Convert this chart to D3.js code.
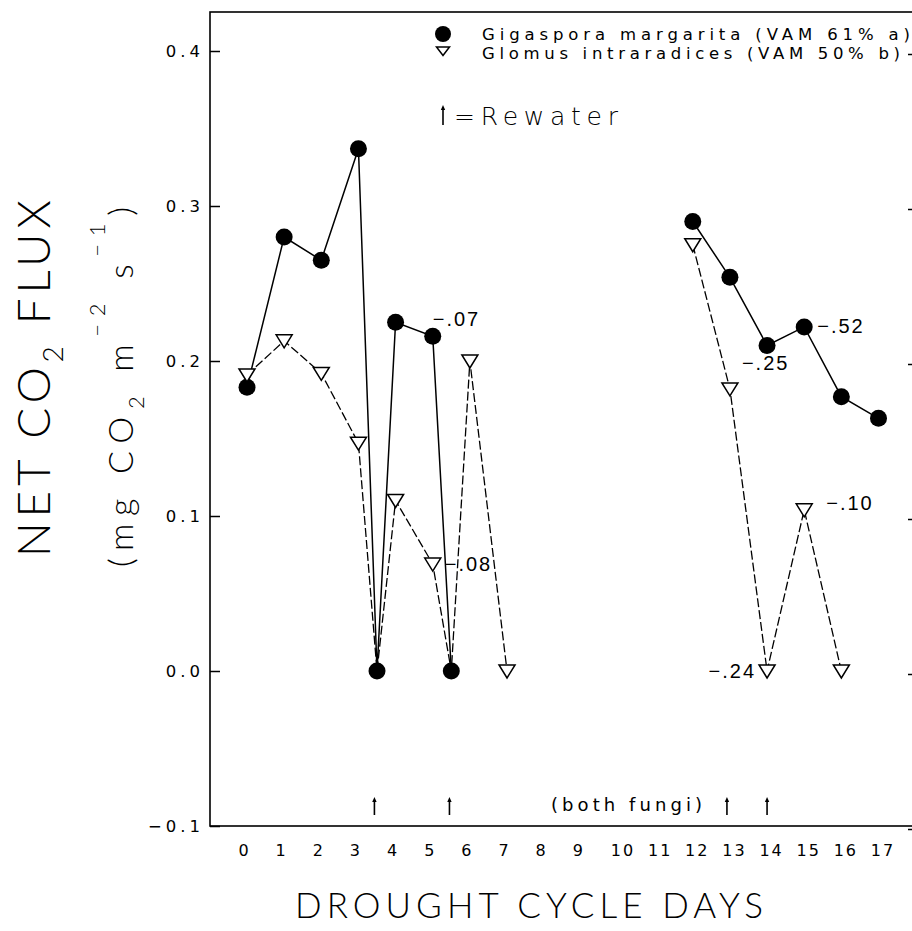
<!DOCTYPE html>
<html>
<head>
<meta charset="utf-8">
<script src="https://cdn.jsdelivr.net/npm/d3@7"></script>
<style>
  html, body { margin: 0; padding: 0; background: #fff; overflow: hidden; }
  svg { display: block; }
</style>
</head>
<body>
<svg id="chart" width="912" height="931"></svg>
<script>
// ---- data ----
const dayTicks = [0, 1, 2, 3, 4, 5, 6, 7, 8, 9, 10, 11, 12, 13, 14, 15, 16, 17];
const fluxTicks = [-0.1, 0.0, 0.1, 0.2, 0.3, 0.4];

const gigasporaDays = [0, 1, 2, 3, 3.5, 4, 5, 5.5, 12, 13, 14, 15, 16, 17];
const gigasporaFlux = [0.183, 0.280, 0.265, 0.337, 0.0, 0.225, 0.216, 0.0, 0.290, 0.254, 0.210, 0.222, 0.177, 0.163];

const glomusDays = [0, 1, 2, 3, 3.5, 4, 5, 5.5, 6, 7, 12, 13, 14, 15, 16];
const glomusFlux = [0.191, 0.213, 0.192, 0.147, 0.0, 0.110, 0.069, 0.0, 0.200, 0.0, 0.275, 0.182, 0.0, 0.104, 0.0];

const seriesNames = ["Gigaspora margarita (VAM 61% a)", "Glomus intraradices (VAM 50% b)"];

const rewaterDays = [3.43, 5.45, 12.92, 14.0];

const noteTexts  = ["\u2212.07", "\u2212.08", "\u2212.25", "\u2212.52", "\u2212.24", "\u2212.10"];
const noteSeries = ["gigaspora", "glomus", "glomus", "gigaspora", "glomus", "glomus"];
const noteDays   = [5, 5, 13, 15, 14, 15];

// ---- layout ----
const svg = d3.select("#chart");
const frame = { left: 210, right: 920, top: 12, bottom: 826 };

const x = d3.scaleLinear().domain([0, 17]).range([247, 878.5]);
const y = d3.scaleLinear().domain([-0.1, 0.4]).range([826, 51]);

const series = {
  gigaspora: gigasporaDays.map((d, i) => ({ day: d, flux: gigasporaFlux[i] })),
  glomus: glomusDays.map((d, i) => ({ day: d, flux: glomusFlux[i] }))
};

// split a series where sampling pauses (days 8-11)
function segments(points) {
  const out = [];
  let cur = [];
  points.forEach((p, i) => {
    if (i > 0 && p.day - points[i - 1].day > 3) { out.push(cur); cur = []; }
    cur.push(p);
  });
  out.push(cur);
  return out;
}

const line = d3.line().x(d => x(d.day)).y(d => y(d.flux));

// ---- frame ----
const g = svg.append("g");
g.append("rect")
  .attr("x", frame.left).attr("y", frame.top)
  .attr("width", frame.right - frame.left).attr("height", frame.bottom - frame.top)
  .attr("fill", "none").attr("stroke", "#000").attr("stroke-width", 1.6);

// left axis, ticks pointing inward
const yAxis = d3.axisLeft(y).tickValues(fluxTicks).tickSize(-10).tickPadding(6)
  .tickFormat(d3.format(".1f"));
const ya = g.append("g").attr("transform", `translate(${frame.left},0)`).call(yAxis);
ya.select(".domain").remove();
ya.selectAll(".tick line").attr("stroke", "#000").attr("stroke-width", 1.5);
ya.selectAll(".tick text")
  .attr("font-family", "DejaVu Sans, sans-serif").attr("font-size", 16.5)
  .attr("letter-spacing", 4).attr("fill", "#000").attr("dy", "0.36em");

// right axis, ticks only
const yAxisR = d3.axisRight(y).tickValues(fluxTicks).tickSize(-12).tickFormat("");
const yr = g.append("g").attr("transform", `translate(${frame.right},3)`).call(yAxisR);
yr.select(".domain").remove();
yr.selectAll(".tick line").attr("stroke", "#000").attr("stroke-width", 1.5);

// bottom axis: labels only
const xAxis = d3.axisBottom(x).tickValues(dayTicks).tickSize(0).tickPadding(0)
  .tickFormat(d3.format("d"));
const xa = g.append("g").attr("transform", `translate(0,${frame.bottom})`).call(xAxis);
xa.select(".domain").remove();
xa.selectAll(".tick text")
  .attr("font-family", "DejaVu Sans, sans-serif").attr("font-size", 16)
  .attr("fill", "#000").attr("y", 30).attr("dy", 0)
  .attr("dx", d => d < 10 ? -4 : 4)
  .attr("letter-spacing", d => d < 10 ? 0 : 2);

// ---- series lines ----
segments(series.glomus).forEach(seg => {
  g.append("path").attr("d", line(seg)).attr("fill", "none")
    .attr("stroke", "#000").attr("stroke-width", 1.3).attr("stroke-dasharray", "9,3");
});
segments(series.gigaspora).forEach(seg => {
  g.append("path").attr("d", line(seg)).attr("fill", "none")
    .attr("stroke", "#000").attr("stroke-width", 1.5);
});

// ---- markers ----
g.selectAll("circle.giga").data(series.gigaspora).enter().append("circle")
  .attr("class", "giga")
  .attr("cx", d => x(d.day)).attr("cy", d => y(d.flux)).attr("r", 8.5)
  .attr("fill", "#000");

const triPath = "M-8,-6L8,-6L0,7Z";
g.selectAll("path.glom").data(series.glomus.filter(d => Number.isInteger(d.day))).enter()
  .append("path").attr("class", "glom")
  .attr("d", triPath)
  .attr("transform", d => `translate(${x(d.day)},${y(d.flux)})`)
  .attr("fill", "#fff").attr("stroke", "#000").attr("stroke-width", 1.5);

// ---- value notes beside points ----
const noteOffsets = [[0, -10, "start"], [12, 7, "start"], [12, -19, "start"],
                     [13, 6, "start"], [-11, 7, "end"], [22, 0, "start"]];
noteTexts.forEach((t, i) => {
  const p = series[noteSeries[i]].find(d => d.day === noteDays[i]);
  const [dx, dy, anchor] = noteOffsets[i];
  g.append("text")
    .attr("x", x(p.day) + dx).attr("y", y(p.flux) + dy)
    .attr("text-anchor", anchor)
    .attr("font-family", "Liberation Sans, Arial, sans-serif").attr("font-size", 20)
    .attr("letter-spacing", 2)
    .text(t);
});

// ---- rewater arrows ----
function upArrow(sel, cx, yTop, yBot) {
  sel.append("line").attr("x1", cx).attr("x2", cx).attr("y1", yBot).attr("y2", yTop + 2)
    .attr("stroke", "#000").attr("stroke-width", 1.6);
  sel.append("path").attr("d", `M${cx - 2.2},${yTop + 4}L${cx + 2.2},${yTop + 4}L${cx},${yTop - 1}Z`)
    .attr("fill", "#000");
}
rewaterDays.forEach(d => upArrow(g, x(d), 798, 815));

g.append("text").attr("x", 551).attr("y", 811)
  .attr("font-family", "DejaVu Sans, sans-serif").attr("font-size", 18)
  .attr("textLength", 151).attr("lengthAdjust", "spacing")
  .text("(both fungi)");

// ---- legend ----
g.append("circle").attr("cx", 443).attr("cy", 34).attr("r", 8).attr("fill", "#000");
g.append("path").attr("d", "M-6.5,-4L6.5,-4L0,4.5Z").attr("transform", "translate(443,51)")
  .attr("fill", "#fff").attr("stroke", "#000").attr("stroke-width", 1.5);
g.append("text").attr("x", 482).attr("y", 39.5)
  .attr("font-family", "DejaVu Sans, sans-serif").attr("font-size", 16.5)
  .attr("textLength", 428).attr("lengthAdjust", "spacing")
  .text(seriesNames[0]);
g.append("text").attr("x", 482).attr("y", 59)
  .attr("font-family", "DejaVu Sans, sans-serif").attr("font-size", 16.5)
  .attr("textLength", 418).attr("lengthAdjust", "spacing")
  .text(seriesNames[1]);

upArrow(g, 443, 106, 125);
g.append("text").attr("x", 454).attr("y", 125)
  .attr("font-family", "DejaVu Sans, sans-serif").attr("font-weight", 200).attr("font-size", 25)
  .attr("textLength", 164).attr("lengthAdjust", "spacing")
  .text("=Rewater");

// ---- axis titles ----
g.append("text").attr("x", 295).attr("y", 918)
  .attr("font-family", "Lato, DejaVu Sans, sans-serif").attr("font-weight", 300).attr("font-size", 35)
  .attr("textLength", 468).attr("lengthAdjust", "spacing")
  .text("DROUGHT CYCLE DAYS");

const t1 = g.append("text").attr("transform", "translate(50,557) rotate(-90)")
  .attr("font-family", "Lato, DejaVu Sans, sans-serif").attr("font-weight", 300).attr("font-size", 46)
  .attr("textLength", 357).attr("lengthAdjust", "spacing");
t1.append("tspan").text("NET CO");
t1.append("tspan").attr("font-size", 28).attr("dy", 13).text("2");
t1.append("tspan").attr("dy", -13).text(" FLUX");

const t2 = g.append("text").attr("transform", "translate(133,567) rotate(-90)")
  .attr("font-family", "Lato, DejaVu Sans, sans-serif").attr("font-weight", 300).attr("font-size", 34)
  .attr("textLength", 360).attr("lengthAdjust", "spacing");
t2.append("tspan").text("(mg CO");
t2.append("tspan").attr("font-size", 22).attr("dy", 11).text("2");
t2.append("tspan").attr("dy", -11).text(" m");
t2.append("tspan").attr("font-size", 22).attr("dy", -28).text("\u22122");
t2.append("tspan").attr("dy", 28).text(" s");
t2.append("tspan").attr("font-size", 22).attr("dy", -28).text("\u22121");
t2.append("tspan").attr("dy", 28).text(")");
</script>
</body>
</html>
